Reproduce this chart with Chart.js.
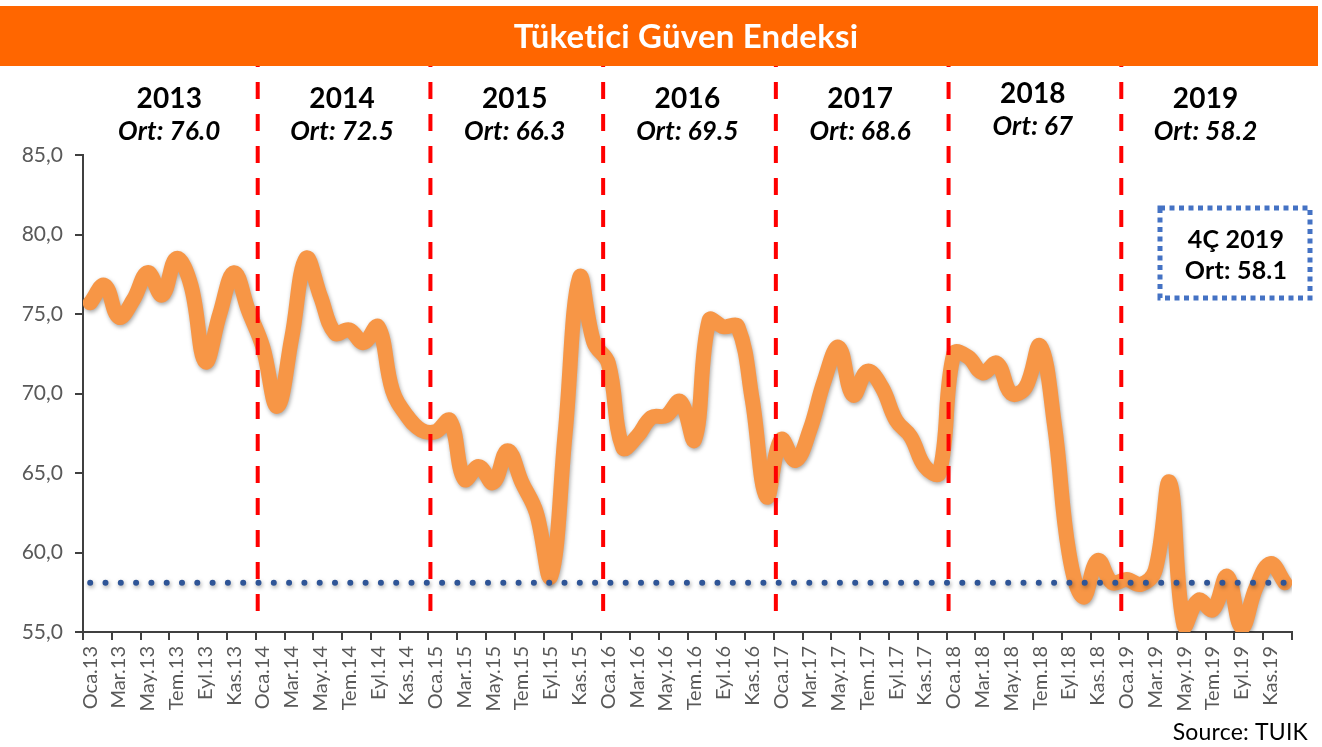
<!DOCTYPE html>
<html>
<head>
<meta charset="utf-8">
<script src="https://cdn.jsdelivr.net/npm/chart.js@4.4.1/dist/chart.umd.min.js"></script>
<style>
  html, body { margin: 0; padding: 0; background: #fff; }
  #wrap { position: relative; width: 1322px; height: 747px; }
</style>
</head>
<body>
<div id="wrap"><canvas id="cgv" width="1322" height="747"></canvas></div>
<script>
// month abbreviations + years -> category labels
var monthNames = ['Oca', 'Şub', 'Mar', 'Nis', 'May', 'Haz', 'Tem', 'Ağu', 'Eyl', 'Eki', 'Kas', 'Ara'];
var years = ['2013', '2014', '2015', '2016', '2017', '2018', '2019'];
var yearAvg = ['Ort: 76.0', 'Ort: 72.5', 'Ort: 66.3', 'Ort: 69.5', 'Ort: 68.6', 'Ort: 67', 'Ort: 58.2'];

// index values, one array per year
var v2013 = [75.7, 76.8, 74.8, 75.9, 77.6, 76.2, 78.5, 76.8, 72.0, 75.0, 77.6, 75.2];
var v2014 = [72.9, 69.2, 73.5, 78.5, 76.1, 73.8, 74.0, 73.2, 74.2, 70.2, 68.6, 67.7];
var v2015 = [67.6, 68.3, 64.6, 65.4, 64.4, 66.4, 64.4, 62.5, 58.5, 67.5, 77.3, 73.2];
var v2016 = [71.9, 66.6, 67.3, 68.5, 68.6, 69.5, 67.1, 74.6, 74.2, 74.2, 69.6, 63.5];
var v2017 = [67.1, 65.8, 67.7, 70.8, 72.9, 69.9, 71.4, 70.4, 68.3, 67.3, 65.4, 65.0];
var v2018 = [72.5, 72.3, 71.3, 71.9, 70.0, 70.4, 73.0, 68.0, 60.0, 57.2, 59.5, 58.1];
var v2019 = [58.3, 58.0, 58.9, 64.4, 55.4, 57.0, 56.4, 58.5, 55.3, 57.8, 59.3, 58.1];

var q4Avg = 58.1;
var yTicks = [55, 60, 65, 70, 75, 80, 85];

var labels = [];
years.forEach(function(y) {
	monthNames.forEach(function(m) { labels.push(m + '.' + y.slice(2)); });
});
var values = [].concat(v2013, v2014, v2015, v2016, v2017, v2018, v2019);
var refLine = labels.map(function() { return q4Avg; });

var FONT = 'Lato, "Open Sans", sans-serif';

function txt(ctx, s, x, y) {
	// letterSpacing keeps Lato from merging "ti"
	ctx.letterSpacing = '0.2px';
	ctx.fillText(s, x, y);
}

// header bar, year captions, red separators, 4Q box, source
var decorPlugin = {
	id: 'decor',
	beforeDraw: function(chart) {
		var ctx = chart.ctx;
		ctx.save();
		ctx.fillStyle = '#fff';
		ctx.fillRect(0, 0, chart.width, chart.height);
		ctx.restore();
	},
	beforeDatasetDraw: function(chart, args) {
		var ctx = chart.ctx;
		ctx.save();
		ctx.shadowColor = 'rgba(0,0,0,0.35)';
		ctx.shadowBlur = 4;
		ctx.shadowOffsetX = 1;
		ctx.shadowOffsetY = 2;
	},
	afterDatasetDraw: function(chart) {
		chart.ctx.restore();
	},
	afterDatasetsDraw: function(chart) {
		var ctx = chart.ctx;
		var x = chart.scales.x;
		var area = chart.chartArea;
		var half = (x.getPixelForValue(1) - x.getPixelForValue(0)) / 2;

		// red dashed year separators
		ctx.save();
		ctx.strokeStyle = '#FF0000';
		ctx.lineWidth = 4;
		ctx.setLineDash([17, 15]);
		for (var i = 1; i < years.length; i++) {
			var px = x.getPixelForValue(i * 12) - half + 2;
			ctx.beginPath();
			ctx.moveTo(px, 50);
			ctx.lineTo(px, area.bottom - 6);
			ctx.stroke();
		}
		ctx.restore();

		// year captions
		ctx.save();
		ctx.fillStyle = '#000';
		ctx.textAlign = 'center';
		ctx.textBaseline = 'middle';
		for (var j = 0; j < years.length; j++) {
			var l = x.getPixelForValue(j * 12) - half;
			var r = x.getPixelForValue(j * 12 + 11) + half;
			var cx = (l + r) / 2;
			var dy = (years[j] === '2018') ? -5 : 0;
			ctx.font = 'bold 28px ' + FONT;
			txt(ctx, years[j], cx, 99 + dy);
			ctx.font = 'italic bold 26px ' + FONT;
			txt(ctx, yearAvg[j], cx, 132 + dy);
		}
		ctx.restore();

		// title bar
		ctx.save();
		ctx.fillStyle = '#FF6600';
		ctx.fillRect(0, 6, 1318, 60);
		ctx.fillStyle = '#fff';
		ctx.font = 'bold 33px ' + FONT;
		ctx.textAlign = 'center';
		ctx.textBaseline = 'middle';
		txt(ctx, 'Tüketici Güven Endeksi', 686, 37);
		ctx.restore();

		// 4Q 2019 box
		ctx.save();
		ctx.strokeStyle = '#4472C4';
		ctx.lineWidth = 5;
		ctx.setLineDash([5, 4.5]);
		ctx.strokeRect(1160, 208, 150, 90);
		ctx.fillStyle = '#000';
		ctx.font = 'bold 25px ' + FONT;
		ctx.textAlign = 'center';
		ctx.textBaseline = 'middle';
		txt(ctx, '4Ç 2019', 1236, 240);
		txt(ctx, 'Ort: 58.1', 1236, 271);
		ctx.restore();

		// source
		ctx.save();
		ctx.fillStyle = '#000';
		ctx.font = '23px ' + FONT;
		ctx.textAlign = 'right';
		ctx.textBaseline = 'middle';
		txt(ctx, 'Source: TUIK', 1308, 733);
		ctx.restore();
	}
};

var ctx = document.getElementById('cgv');
var chart = new Chart(ctx, {
	type: 'line',
	data: {
		labels: labels,
		datasets: [
			{
				label: 'Tüketici Güven Endeksi',
				data: values,
				borderColor: '#F79646',
				borderWidth: 15,
				tension: 0.4,
				pointRadius: 0,
				borderCapStyle: 'round',
				borderJoinStyle: 'round',
				clip: 0,
				order: 2
			},
			{
				label: '4Ç 2019 Ort',
				data: refLine,
				borderColor: '#2F5597',
				borderWidth: 6,
				borderDash: [0, 15.3],
				borderCapStyle: 'round',
				pointRadius: 0,
				tension: 0,
				clip: 0,
				order: 1
			}
		]
	},
	options: {
		responsive: false,
		animation: false,
		layout: { padding: { left: 0, top: 155, right: 30, bottom: 0 } },
		plugins: {
			legend: { display: false },
			tooltip: { enabled: false },
			title: { display: false }
		},
		scales: {
			x: {
				offset: true,
				afterFit: function(scale) { scale.height = 115; },
				grid: {
					offset: true,
					drawOnChartArea: false,
					drawTicks: true,
					tickLength: 8,
					lineWidth: 2,
					color: function(c) {
						return (c.index === undefined || c.index % 2 === 0) ? '#404040' : 'rgba(0,0,0,0)';
					}
				},
				border: { display: true, color: '#404040', width: 2 },
				ticks: {
					autoSkip: false,
					minRotation: 90,
					maxRotation: 90,
					padding: 6,
					color: '#595959',
					font: { family: FONT, size: 20 },
					callback: function(val, i) { return i % 2 === 0 ? labels[i] : ''; }
				}
			},
			y: {
				min: 55,
				max: 85,
				afterFit: function(scale) { scale.width = 83; },
				afterBuildTicks: function(scale) {
					scale.ticks = yTicks.map(function(v) { return { value: v }; });
				},
				grid: {
					drawOnChartArea: false,
					drawTicks: true,
					tickLength: 8,
					lineWidth: 2,
					color: '#404040'
				},
				border: { display: true, color: '#404040', width: 2 },
				ticks: {
					padding: 12,
					color: '#595959',
					font: { family: FONT, size: 21 },
					callback: function(v) { return v.toFixed(1).replace('.', ','); }
				}
			}
		}
	},
	plugins: [decorPlugin]
});
</script>
</body>
</html>
